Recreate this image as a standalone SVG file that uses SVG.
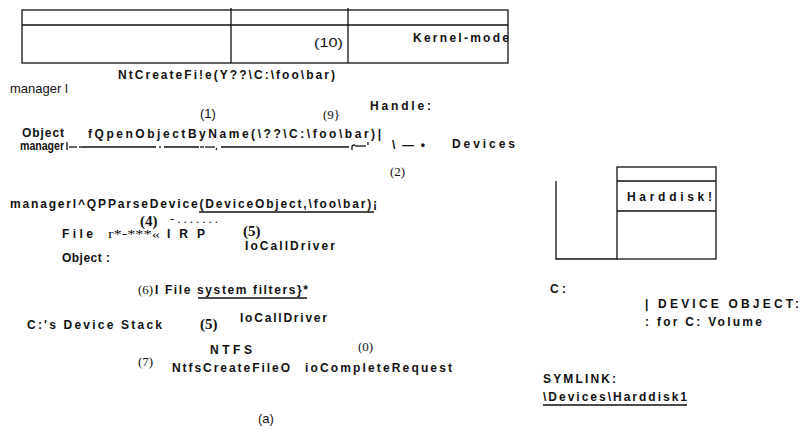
<svg xmlns="http://www.w3.org/2000/svg" width="800" height="443" viewBox="0 0 800 443">
<style>
.b{font-family:"Liberation Sans",Arial,sans-serif;font-weight:bold;font-size:12px;fill:#111}
.r{font-family:"Liberation Sans",Arial,sans-serif;font-size:13px;fill:#111}
.s{font-family:"Liberation Serif","Times New Roman",serif;font-size:13px;fill:#111}
.sb{font-family:"Liberation Serif","Times New Roman",serif;font-weight:bold;font-size:15px;fill:#111}
.ln{stroke:#111;stroke-width:1.3;fill:none}
</style>
<rect width="800" height="443" fill="#fff"/>
<g id="kernel-table">
<rect class="ln" x="22" y="10" width="486" height="53"/>
<line class="ln" x1="22" y1="25" x2="508" y2="25"/>
<line class="ln" x1="231" y1="8" x2="231" y2="63"/>
<line class="ln" x1="348" y1="8" x2="348" y2="63"/>
<text class="r" x="314" y="47" font-size="14" textLength="29" lengthAdjust="spacingAndGlyphs">(10)</text>
<text class="b" x="413" y="42" textLength="96" lengthAdjust="spacing">Kernel-mode</text>
</g>
<g id="ntcreatefile">
<text class="b" x="118" y="79" textLength="217" lengthAdjust="spacing">NtCreateFi!e(Y??\C:\foo\bar)</text>
<text class="r" x="10" y="93">manager  l</text>
</g>
<g id="object-manager">
<text class="r" x="200" y="118">(1)</text>
<text class="s" x="323" y="119">(9}</text>
<text class="b" x="370" y="110" textLength="61" lengthAdjust="spacing">Handle:</text>
<text class="b" x="22" y="137" font-size="11" textLength="42" lengthAdjust="spacing">Object</text>
<text class="b" x="20" y="150" font-size="11" textLength="44" lengthAdjust="spacingAndGlyphs">manager</text>
<text class="b" x="88" y="138" textLength="293" lengthAdjust="spacing">fQpenObjectByName(\??\C:\foo\bar)|</text>
</g>
<g id="connectors">
<line class="ln" x1="67" y1="142" x2="67" y2="150" stroke-width="1"/>
<line class="ln" x1="69" y1="147" x2="77" y2="147" stroke-width="1"/>
<line class="ln" x1="79" y1="147" x2="82" y2="147" stroke-width="1"/>
<line class="ln" x1="82" y1="147" x2="156" y2="147" stroke-width="1"/>
<line class="ln" x1="160" y1="146" x2="160" y2="148" stroke-width="1"/>
<line class="ln" x1="164" y1="147" x2="199" y2="147" stroke-width="2.2"/>
<line class="ln" x1="200" y1="147" x2="204" y2="147" stroke-width="1"/>
<line class="ln" x1="205" y1="147" x2="215" y2="147" stroke-width="1"/>
<line class="ln" x1="217" y1="148" x2="216" y2="150" stroke-width="0.8"/>
<line class="ln" x1="221" y1="147" x2="349" y2="147" stroke-width="1"/>
<path class="ln" d="M352,150 V146 Q353,145 355,145" stroke-width="0.9"/>
<line class="ln" x1="355" y1="146" x2="366" y2="146" stroke-width="1"/>
<line class="ln" x1="368" y1="142" x2="368" y2="145" stroke-width="0.8"/>
<text class="b" x="392" y="149" textLength="33" lengthAdjust="spacing">\ — •</text>
<text class="b" x="452" y="148" textLength="63" lengthAdjust="spacing">Devices</text>
<text class="s" x="390" y="176">(2)</text>
</g>
<g id="parse-device">
<text class="b" x="10" y="208" textLength="367" lengthAdjust="spacing">managerl^QPParseDevice(DeviceObject,\foo\bar)¡</text>
<line class="ln" x1="199" y1="212" x2="374" y2="212" stroke-width="1.2"/>
</g>
<g id="file-object">
<text class="sb" x="140" y="226">(4)</text>
<text class="s" x="170" y="223" textLength="48" lengthAdjust="spacing">-.......</text>
<text class="b" x="62" y="238" font-size="13" textLength="31" lengthAdjust="spacing">File</text>
<text class="s" x="108" y="238" textLength="52" lengthAdjust="spacingAndGlyphs">r*-***«</text>
<text class="b" x="167" y="238" font-size="13" textLength="38" lengthAdjust="spacing">IRP</text>
<text class="sb" x="243" y="236" font-size="16">(5)</text>
<text class="b" x="245" y="250" textLength="90" lengthAdjust="spacing">IoCallDriver</text>
<text class="b" x="62" y="262" textLength="48" lengthAdjust="spacing">Object :</text>
</g>
<g id="device-stack">
<text class="s" x="138" y="294" font-size="10">(6)</text>
<text class="b" x="155" y="294" textLength="153" lengthAdjust="spacing">I File  system  filters}*</text>
<line class="ln" x1="198" y1="298" x2="307" y2="298" stroke-width="1.2"/>
<text class="b" x="27" y="329" textLength="135" lengthAdjust="spacing">C:'s Device Stack</text>
<text class="sb" x="200" y="329" font-size="18">(5)</text>
<text class="b" x="240" y="322" textLength="87" lengthAdjust="spacing">IoCallDriver</text>
<text class="b" x="210" y="354" textLength="42" lengthAdjust="spacing">NTFS</text>
<text class="s" x="358" y="351">(0)</text>
<text class="s" x="138" y="366" font-size="16">(7)</text>
<text class="b" x="172" y="372" textLength="118" lengthAdjust="spacing">NtfsCreateFileO</text>
<text class="b" x="305" y="372" textLength="147" lengthAdjust="spacing">ioCompleteRequest</text>
</g>
<g id="caption">
<text class="r" x="258" y="423">(a)</text>
</g>
<g id="harddisk">
<rect class="ln" x="617" y="167" width="99" height="92"/>
<line class="ln" x1="617" y1="181" x2="716" y2="181"/>
<line class="ln" x1="617" y1="211" x2="716" y2="211"/>
<polyline class="ln" points="556,181 556,259 617,259"/>
<text class="b" x="627" y="201" textLength="85" lengthAdjust="spacing">Harddisk!</text>
</g>
<g id="volume">
<text class="b" x="550" y="293" textLength="16" lengthAdjust="spacing">C:</text>
<text class="b" x="645" y="308" textLength="154" lengthAdjust="spacing">| DEVICE OBJECT:</text>
<text class="b" x="645" y="326" textLength="117" lengthAdjust="spacing">: for C: Volume</text>
</g>
<g id="symlink">
<text class="b" x="543" y="383" textLength="73" lengthAdjust="spacing">SYMLINK:</text>
<text class="b" x="543" y="401" textLength="144" lengthAdjust="spacing">\Devices\Harddisk1</text>
<line class="ln" x1="543" y1="405" x2="687" y2="405" stroke-width="1.2"/>
</g>
</svg>
